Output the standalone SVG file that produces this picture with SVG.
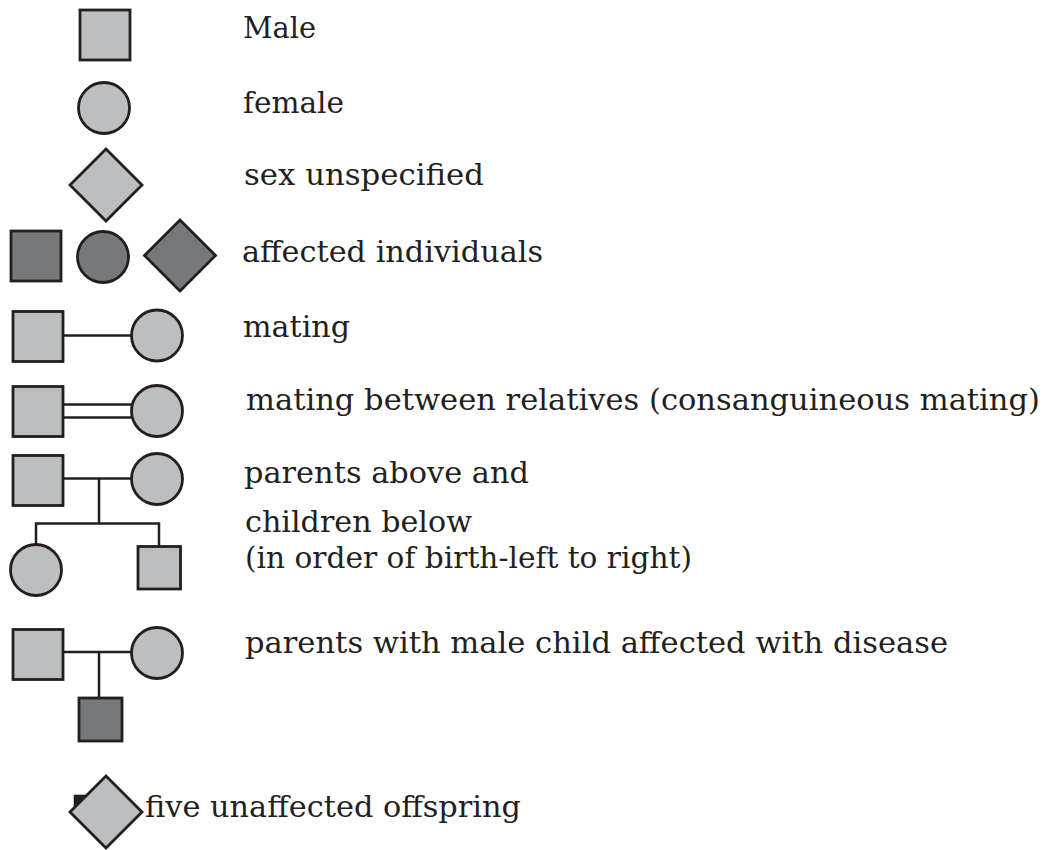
<svg xmlns="http://www.w3.org/2000/svg" width="1045" height="850" viewBox="0 0 1045 850">
<style>
.n{fill:#bcbec0;stroke:#231f20;stroke-width:2.8}
.a{fill:#77787b;stroke:#231f20;stroke-width:2.8}
.c{fill:none;stroke:#231f20;stroke-width:2.5}
text{font-family:"DejaVu Serif","Liberation Serif",serif;font-size:30px;fill:#231f20}
</style>
<rect width="1045" height="850" fill="#ffffff"/>
<g id="connectors">
<line class="c" x1="62" y1="335.5" x2="132" y2="335.5"/>
<line class="c" x1="62" y1="404.5" x2="133" y2="404.5"/>
<line class="c" x1="62" y1="417.5" x2="133" y2="417.5"/>
<line class="c" x1="62" y1="478.5" x2="132" y2="478.5"/>
<polyline class="c" points="99,478.5 99,523.5"/>
<polyline class="c" points="36,545 36,523.5 159,523.5 159,547"/>
<line class="c" x1="62" y1="652" x2="132" y2="652"/>
<line class="c" x1="99" y1="652" x2="99" y2="698"/>
</g>
<g id="male"><rect class="n" x="80" y="10" width="50" height="50"/><text x="243" y="38" textLength="73" lengthAdjust="spacingAndGlyphs">Male</text></g>
<g id="female"><circle class="n" cx="104" cy="108" r="25.5"/><text x="243" y="113" textLength="101" lengthAdjust="spacingAndGlyphs">female</text></g>
<g id="unspecified"><polygon class="n" points="106,149 142,185 106,221 70,185"/><text x="244" y="185" textLength="240" lengthAdjust="spacingAndGlyphs">sex unspecified</text></g>
<g id="affected">
<rect class="a" x="11" y="231" width="50" height="50"/>
<circle class="a" cx="103" cy="257" r="25.5"/>
<polygon class="a" points="180,220 215.5,255.5 180,291 144.5,255.5"/>
<text x="242" y="262" textLength="301" lengthAdjust="spacingAndGlyphs">affected individuals</text>
</g>
<g id="mating">
<rect class="n" x="13" y="311.5" width="50" height="50"/>
<circle class="n" cx="157" cy="335.5" r="25.5"/>
<text x="243" y="337" textLength="107" lengthAdjust="spacingAndGlyphs">mating</text>
</g>
<g id="consanguineous">
<rect class="n" x="13" y="386.5" width="50" height="50"/>
<circle class="n" cx="157" cy="411" r="25.5"/>
<text x="246" y="410" textLength="794" lengthAdjust="spacingAndGlyphs">mating between relatives (consanguineous mating)</text>
</g>
<g id="parents-children">
<rect class="n" x="13" y="455.5" width="50" height="50"/>
<circle class="n" cx="157" cy="479" r="25.5"/>
<circle class="n" cx="36" cy="570" r="25.5"/>
<rect class="n" x="138" y="546.5" width="42.5" height="42.5"/>
<text x="244" y="483" textLength="285" lengthAdjust="spacingAndGlyphs">parents above and</text>
<text x="245" y="532" textLength="227" lengthAdjust="spacingAndGlyphs">children below</text>
<text x="245" y="568" textLength="447" lengthAdjust="spacingAndGlyphs">(in order of birth-left to right)</text>
</g>
<g id="parents-affected-child">
<rect class="n" x="13" y="629.5" width="50" height="50"/>
<circle class="n" cx="157" cy="653" r="25.5"/>
<rect class="a" x="79" y="698" width="43" height="43"/>
<text x="245" y="653" textLength="703" lengthAdjust="spacingAndGlyphs">parents with male child affected with disease</text>
</g>
<g id="five-unaffected">
<rect x="75" y="796" width="20" height="20" fill="#231f20" stroke="#231f20" stroke-width="2.6"/>
<polygon class="n" points="106,776 142,812 106,848 70,812"/>
<text x="145" y="817" textLength="376" lengthAdjust="spacingAndGlyphs">five unaffected offspring</text>
</g>
</svg>
